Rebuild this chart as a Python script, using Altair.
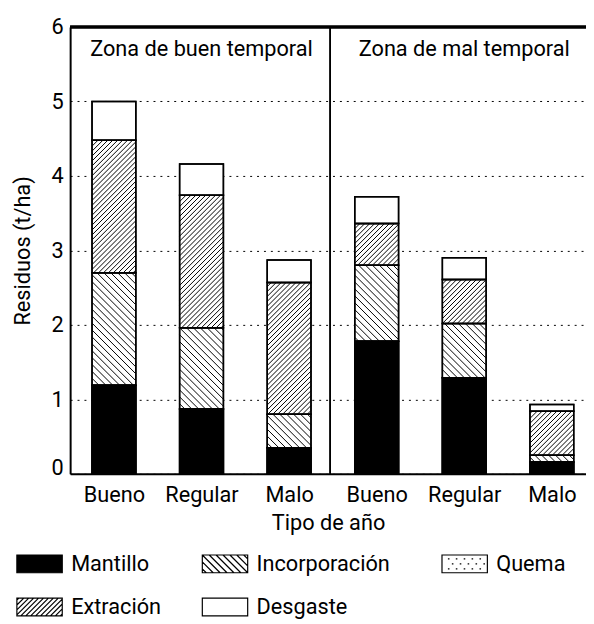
import math
import altair as alt
import pandas as pd

# ---------------- data ----------------
zones = ["Zona de buen temporal", "Zona de mal temporal"]
zone_of_bar = [0, 0, 0, 1, 1, 1]
years = ["Bueno", "Regular", "Malo", "Bueno", "Regular", "Malo"]
components = ["Mantillo", "Incorporación", "Quema", "Extración", "Desgaste"]
mantillo = [1.19, 0.87, 0.35, 1.78, 1.29, 0.16]
incorporacion = [1.51, 1.09, 0.45, 1.02, 0.73, 0.09]
quema = [0.0, 0.0, 0.0, 0.0, 0.0, 0.0]
extracion = [1.78, 1.78, 1.77, 0.56, 0.59, 0.59]
desgaste = [0.52, 0.42, 0.30, 0.36, 0.29, 0.09]
y_ticks = [0, 1, 2, 3, 4, 5, 6]

values_by_comp = {
    "Mantillo": mantillo,
    "Incorporación": incorporacion,
    "Quema": quema,
    "Extración": extracion,
    "Desgaste": desgaste,
}

# ---------------- layout / style ----------------
FONT = "Roboto"
FS = 22
W, H = 523, 453
X_MIN, X_MAX = -0.5, 5.39
Y_MAX = 6
HALF = 0.25
SX = W / (X_MAX - X_MIN)
SY = H / Y_MAX
DIVIDER = 2.47
ZONE_Y = 5.61
fill_range = ["black", "white", "white", "white", "white"]
stroke_range = ["black"] * 5
patterns = {"Incorporación": ("back", 7.0), "Extración": ("fwd", 5.0)}

# ---------------- stacked segments ----------------
rows = []
for i in range(len(years)):
    base = 0.0
    for comp in components:
        v = values_by_comp[comp][i]
        if v > 0:
            rows.append(dict(pos=i, year=years[i], comp=comp,
                             x0=i - HALF, x1=i + HALF, y0=base, y1=base + v))
        base += v
seg = pd.DataFrame(rows)


def hatch_lines(X0, X1, Y0, Y1, kind, step):
    """Segments (pixel space, y up) of a hatch clipped to a rectangle."""
    out = []
    if kind == "fwd":
        cmin, cmax = Y0 - X1, Y1 - X0
    else:
        cmin, cmax = Y0 + X0, Y1 + X1
    k = math.ceil(cmin / step)
    while k * step <= cmax:
        c = k * step
        if kind == "fwd":
            a, b = max(X0, Y0 - c), min(X1, Y1 - c)
            if b > a + 0.3:
                out.append((a, a + c, b, b + c))
        else:
            a, b = max(X0, c - Y1), min(X1, c - Y0)
            if b > a + 0.3:
                out.append((a, c - a, b, c - b))
        k += 1
    return out


hrows = []
for r in rows:
    if r["comp"] not in patterns:
        continue
    kind, step = patterns[r["comp"]]
    X0, X1 = (r["x0"] - X_MIN) * SX, (r["x1"] - X_MIN) * SX
    Y0, Y1 = r["y0"] * SY, r["y1"] * SY
    for (ax, ay, bx, by) in hatch_lines(X0, X1, Y0, Y1, kind, step):
        hrows.append(dict(hx=ax / SX + X_MIN, hy=ay / SY, hx2=bx / SX + X_MIN, hy2=by / SY))
hatch_df = pd.DataFrame(hrows)


# ---------------- legend symbols (custom SVG paths) ----------------
def legend_path(comp):
    hw, hh = 23.0, 9.0
    u = lambda v: f"{v / hw:.4f}"
    p = f"M{u(-hw)},{u(-hh)}L{u(hw)},{u(-hh)}L{u(hw)},{u(hh)}L{u(-hw)},{u(hh)}Z"
    if comp in patterns:
        kind, step = patterns[comp]
        for (ax, ay, bx, by) in hatch_lines(-hw, hw, -hh, hh, kind, step):
            p += f"M{u(ax)},{u(-ay)}L{u(bx)},{u(-by)}"
    elif comp == "Quema":
        for j, yy in enumerate([-5.0, 0.0, 5.0]):
            xs = [-17 + (j % 2) * 4 + 8 * t for t in range(5)]
            for xx in xs:
                if xx < hw - 2:
                    p += f"M{u(xx)},{u(yy)}L{u(xx + 1.6)},{u(yy)}"
    return p


legend_df = pd.DataFrame({"comp": components})
shape_range = [legend_path(c) for c in components]

zone_df = pd.DataFrame({
    "zone": zones,
    "zx": [sum(i for i in range(len(years)) if zone_of_bar[i] == z) /
           sum(1 for i in range(len(years)) if zone_of_bar[i] == z) for z in range(len(zones))],
})

# ---------------- encodings ----------------
label_array = "[" + ",".join(f"'{y}'" for y in years) + "]"
x_scale = alt.Scale(domain=[X_MIN, X_MAX], nice=False, zero=False)
y_scale = alt.Scale(domain=[0, Y_MAX], nice=False)

x_axis = alt.Axis(values=list(range(len(years))), labelExpr=f"{label_array}[datum.value]",
                  title="Tipo de año", grid=False, ticks=False, domainColor="black",
                  domainWidth=2, labelFontSize=FS, labelColor="black", labelPadding=11,
                  labelFlush=False, labelOverlap=False, labelFont=FONT,
                  titleFont=FONT, titleFontSize=FS, titleFontWeight="normal",
                  titleColor="black", titlePadding=7)
y_axis = alt.Axis(values=y_ticks, format="d", title="Residuos (t/ha)", grid=True,
                  gridDash=[2, 5], gridColor="black", gridWidth=1, gridOpacity=1, ticks=False,
                  domainColor="black", domainWidth=2, labelFontSize=FS, labelColor="black",
                  labelPadding=7, labelFont=FONT,
                  labelOffset={"condition": {"test": "datum.value === 0", "value": -6}, "value": 0},
                  titleFont=FONT, titleFontSize=FS, titleFontWeight="normal",
                  titleColor="black", titlePadding=17)

base = alt.Chart(seg)

bars = base.mark_bar(fill="white", stroke="black", strokeWidth=1.5).encode(
    x=alt.X("x0:Q", scale=x_scale, axis=x_axis),
    x2="x1:Q",
    y=alt.Y("y0:Q", scale=y_scale, axis=y_axis),
    y2="y1:Q",
)

solid = base.transform_filter(alt.datum.comp == components[0]).mark_bar(
    fill="black", stroke="black", strokeWidth=1.5
).encode(x="x0:Q", x2="x1:Q", y="y0:Q", y2="y1:Q")

hatch = alt.Chart(hatch_df).mark_rule(color="black", strokeWidth=1).encode(
    x="hx:Q", y="hy:Q", x2="hx2:Q", y2="hy2:Q"
)

outline = base.mark_bar(fillOpacity=0, stroke="black", strokeWidth=1.5).encode(
    x="x0:Q", x2="x1:Q", y="y0:Q", y2="y1:Q"
)

top_rule = alt.Chart(legend_df).mark_rule(color="black", strokeWidth=2.5).encode(
    y=alt.datum(Y_MAX)
)

divider = alt.Chart(legend_df).mark_rule(color="black", strokeWidth=1.2).encode(
    x=alt.datum(DIVIDER)
)

zone_text = alt.Chart(zone_df).mark_text(
    font=FONT, fontSize=FS, color="black", baseline="alphabetic", align="center"
).encode(x="zx:Q", y=alt.datum(ZONE_Y), text="zone:N")

# widen the middle legend column: non-breaking spaces kept by a trailing zero-width char
pad_label = "Incorporación"
label_expr = (f"datum.label == '{pad_label}' ? datum.label + '" + "\u00a0" * 2 + "\u200b"
              + "' : datum.label")
lg = alt.Legend(title=None, labelExpr=label_expr)
legend_pts = alt.Chart(legend_df).mark_point(
    filled=True, strokeWidth=1.2, size=2116, clip=True, opacity=1
).encode(
    x=alt.datum(0),
    y=alt.datum(-1),
    fill=alt.Fill("comp:N", scale=alt.Scale(domain=components, range=fill_range), legend=lg),
    stroke=alt.Stroke("comp:N", scale=alt.Scale(domain=components, range=stroke_range), legend=lg),
    shape=alt.Shape("comp:N", scale=alt.Scale(domain=components, range=shape_range), legend=lg),
)

chart = alt.layer(bars, solid, hatch, outline, top_rule, divider, zone_text, legend_pts).properties(
    width=W, height=H,
    padding={"left": 63, "top": 15, "right": 0, "bottom": 148},
    autosize=alt.AutoSizeParams(type="none"),
).configure(font=FONT).configure_view(stroke=None).configure_legend(
    orient="none", legendX=-55, legendY=520, columns=3, direction="horizontal",
    symbolSize=2116, symbolStrokeColor="black", symbolStrokeWidth=1.2,
    labelFont=FONT, labelFontSize=FS, labelColor="black", labelOffset=8, labelLimit=0,
    rowPadding=8, columnPadding=38, padding=0, offset=0, gridAlign="each",
)

chart.save("out.html", embed_options={"renderer": "svg", "actions": False})
